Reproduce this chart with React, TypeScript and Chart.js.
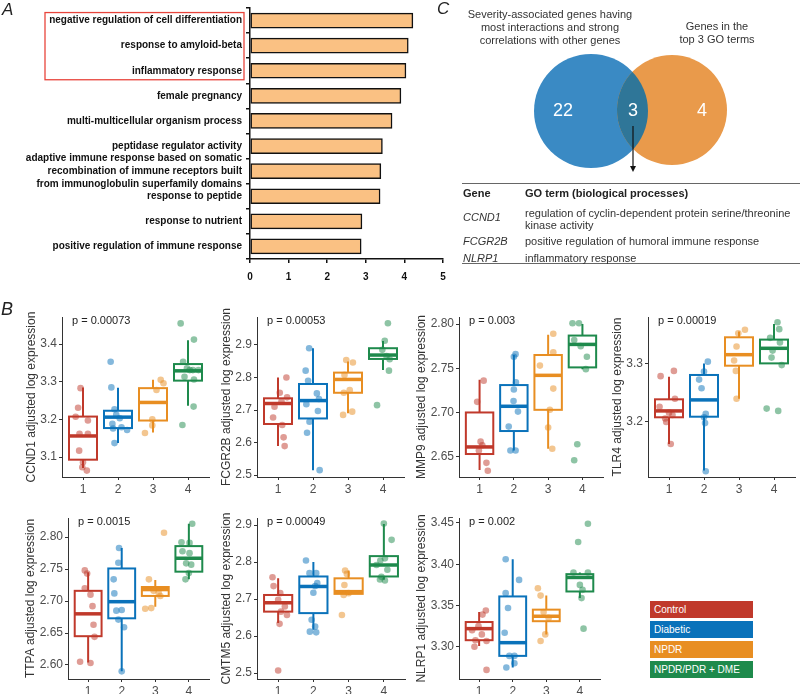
import React, { useEffect, useRef } from "react";
import { Chart, registerables } from "chart.js";
Chart.register(...registerables);

const FONT = '"Liberation Sans", Arial, Helvetica, sans-serif';

// ---------- Panel A data ----------
const goTerms: (string | string[])[] = [
  "negative regulation of cell differentiation",
  "response to amyloid-beta",
  "inflammatory response",
  "female pregnancy",
  "multi-multicellular organism process",
  "peptidase regulator activity",
  ["adaptive immune response based on somatic", "recombination of immune receptors built", "from immunoglobulin superfamily domains"],
  "response to peptide",
  "response to nutrient",
  "positive regulation of immune response",
];
const goScores = [4.22, 4.1, 4.04, 3.91, 3.68, 3.43, 3.39, 3.37, 2.9, 2.88];
const goAxisMax = 5;

// ---------- Panel C data ----------
const vennCounts = [22, 3, 4];
const vennLeftTitle = "Severity-associated genes having\nmost interactions and strong\ncorrelations with other genes";
const vennRightTitle = "Genes in the\ntop 3 GO terms";
const tableGenes = ["CCND1", "FCGR2B", "NLRP1"];
const tableTerms = [
  "regulation of cyclin-dependent protein serine/threonine\nkinase activity",
  "positive regulation of humoral immune response",
  "inflammatory response",
];

// ---------- Panel B data ----------
const groups = ["Control", "Diabetic", "NPDR", "NPDR/PDR + DME"];
const groupColors = ["#C0392B", "#0A72BA", "#E88E22", "#1E8A4C"];
const geneNames = ["CCND1", "FCGR2B", "MMP9", "TLR4", "TTPA", "CMTM5", "NLRP1"];
const pValues = ["0.00073", "0.00053", "0.003", "0.00019", "0.0015", "0.00049", "0.002"];

// box stats: [lower whisker, q1, median, q3, upper whisker]
const ccnd1Box = [[3.071, 3.093, 3.156, 3.2075, 3.285], [3.137, 3.177, 3.206, 3.223, 3.284], [3.165, 3.197, 3.245, 3.283, 3.305], [3.236, 3.303, 3.329, 3.347, 3.41]];
const ccnd1Values = [
  [3.283, 3.231, 3.207, 3.197, 3.162, 3.162, 3.117, 3.086, 3.073, 3.064],
  [3.353, 3.285, 3.227, 3.212, 3.203, 3.188, 3.176, 3.179, 3.172, 3.137],
  [3.305, 3.296, 3.278, 3.2, 3.184, 3.164],
  [3.455, 3.412, 3.353, 3.336, 3.331, 3.331, 3.331, 3.313, 3.306, 3.234, 3.185],
];
const ccnd1Jitter = [
  [-0.07, -0.14, -0.21, 0.14, -0.1, 0.14, -0.11, 0, -0.02, 0.11],
  [-0.21, -0.19, -0.1, -0.05, 0.05, -0.16, -0.14, 0.1, 0.26, -0.1],
  [0.22, 0.3, 0.1, -0.02, -0.02, -0.23],
  [-0.21, 0.17, -0.14, -0.03, 0.05, 0.14, 0.3, -0.1, 0.17, 0.16, -0.16],
];
const ccnd1Ticks = [3.1, 3.2, 3.3, 3.4];
const ccnd1Range = [3.047, 3.472];

const fcgr2bBox = [[2.589, 2.657, 2.72, 2.736, 2.8], [2.515, 2.674, 2.729, 2.78, 2.89], [2.69, 2.753, 2.794, 2.815, 2.849], [2.823, 2.857, 2.869, 2.89, 2.912]];
const fcgr2bValues = [
  [2.8, 2.753, 2.739, 2.727, 2.71, 2.677, 2.654, 2.616, 2.589],
  [2.89, 2.821, 2.79, 2.751, 2.718, 2.734, 2.697, 2.664, 2.63, 2.515],
  [2.854, 2.846, 2.808, 2.761, 2.753, 2.695, 2.685],
  [2.967, 2.913, 2.885, 2.866, 2.856, 2.821, 2.715],
];
const fcgr2bJitter = [
  [0.24, 0.05, 0.26, 0.1, -0.1, -0.14, 0.12, 0.16, 0.19],
  [-0.11, -0.21, -0.14, 0.11, -0.19, 0.17, 0.14, -0.1, -0.17, 0.19],
  [-0.05, 0.14, -0.1, 0.05, -0.12, 0.12, -0.14],
  [0.14, 0.05, -0.02, 0.1, 0.19, 0.17, -0.17],
];
const fcgr2bTicks = [2.5, 2.6, 2.7, 2.8, 2.9];
const fcgr2bRange = [2.494, 2.986];

const mmp9Box = [[2.635, 2.653, 2.661, 2.7, 2.737], [2.657, 2.679, 2.707, 2.731, 2.765], [2.659, 2.703, 2.742, 2.765, 2.788], [2.749, 2.751, 2.777, 2.787, 2.8]];
const mmp9Values = [
  [2.736, 2.712, 2.667, 2.663, 2.657, 2.643, 2.634],
  [2.766, 2.763, 2.734, 2.726, 2.713, 2.701, 2.684, 2.657, 2.657],
  [2.789, 2.768, 2.753, 2.727, 2.703, 2.683, 2.659],
  [2.801, 2.801, 2.782, 2.775, 2.763, 2.749, 2.664, 2.646],
];
const mmp9Jitter = [
  [0.12, -0.07, 0.03, 0.08, -0.02, 0.2, 0.24],
  [0.05, 0.0, 0.06, 0.0, -0.01, 0.12, -0.15, -0.1, 0.05],
  [0.15, 0.15, -0.24, 0.15, 0.05, 0.0, 0.12],
  [-0.29, -0.1, -0.24, -0.05, 0.13, 0.1, -0.15, -0.24],
];
const mmp9Ticks = [2.65, 2.7, 2.75, 2.8];
const mmp9Range = [2.627, 2.808];

const tlr4Box = [[3.162, 3.208, 3.219, 3.239, 3.278], [3.116, 3.209, 3.238, 3.281, 3.301], [3.24, 3.297, 3.316, 3.346, 3.356], [3.301, 3.301, 3.327, 3.342, 3.369]];
const tlr4Values = [
  [3.288, 3.279, 3.24, 3.226, 3.216, 3.212, 3.206, 3.2, 3.162],
  [3.304, 3.287, 3.273, 3.258, 3.214, 3.208, 3.198, 3.115],
  [3.359, 3.353, 3.33, 3.306, 3.288, 3.24],
  [3.372, 3.36, 3.345, 3.337, 3.323, 3.311, 3.298, 3.223, 3.219],
];
const tlr4Jitter = [
  [0.14, -0.24, 0.17, -0.27, 0, 0.1, -0.11, -0.08, 0.05],
  [0.11, 0, -0.14, -0.07, 0.05, 0, 0.03, 0.05],
  [0.17, -0.02, -0.07, -0.14, -0.09, -0.07],
  [0.1, 0.15, -0.11, 0.17, -0.04, -0.07, 0.22, -0.21, 0.12],
];
const tlr4Ticks = [3.2, 3.3];
const tlr4Range = [3.105, 3.381];

const ttpaBox = [[2.604, 2.645, 2.68, 2.716, 2.745], [2.59, 2.673, 2.699, 2.751, 2.783], [2.691, 2.708, 2.718, 2.722, 2.733], [2.734, 2.746, 2.767, 2.786, 2.821]];
const ttpaValues = [
  [2.748, 2.743, 2.72, 2.71, 2.692, 2.663, 2.644, 2.605, 2.603],
  [2.783, 2.76, 2.734, 2.712, 2.685, 2.686, 2.671, 2.659, 2.59],
  [2.807, 2.734, 2.716, 2.713, 2.708, 2.689, 2.688],
  [2.821, 2.792, 2.791, 2.778, 2.775, 2.759, 2.757, 2.744, 2.734],
];
const ttpaJitter = [
  [-0.1, -0.03, -0.1, 0.07, 0.13, 0.16, 0.19, -0.24, 0.07],
  [-0.08, -0.1, -0.24, -0.22, -0.16, 0, -0.1, 0.07, 0],
  [0.26, -0.19, -0.05, 0.1, 0.15, -0.12, -0.3],
  [0.1, -0.22, 0.02, -0.19, 0.02, -0.08, 0.07, 0, -0.1],
];
const ttpaTicks = [2.6, 2.65, 2.7, 2.75, 2.8];
const ttpaRange = [2.578, 2.83];

const cmtm5Box = [[2.635, 2.666, 2.69, 2.711, 2.756], [2.617, 2.662, 2.734, 2.761, 2.8], [2.711, 2.714, 2.72, 2.756, 2.777], [2.752, 2.761, 2.792, 2.816, 2.903]];
const cmtm5Values = [
  [2.759, 2.735, 2.716, 2.698, 2.68, 2.666, 2.657, 2.633, 2.507],
  [2.804, 2.77, 2.77, 2.743, 2.735, 2.717, 2.644, 2.626, 2.61, 2.612],
  [2.777, 2.768, 2.738, 2.716, 2.711, 2.657],
  [2.904, 2.86, 2.81, 2.804, 2.792, 2.779, 2.76, 2.753, 2.75],
];
const cmtm5Jitter = [
  [-0.16, -0.13, 0.06, 0, 0.19, 0.08, 0.25, 0.04, 0],
  [-0.21, 0.08, -0.11, 0.11, 0.05, 0, -0.05, 0.05, 0.08, -0.1],
  [-0.1, -0.05, -0.12, 0, -0.14, -0.19],
  [0, 0.22, 0.03, -0.1, -0.21, 0.1, -0.07, -0.11, 0.03],
];
const cmtm5Ticks = [2.5, 2.6, 2.7, 2.8, 2.9];
const cmtm5Range = [2.484, 2.919];

const nlrp1Box = [[3.301, 3.308, 3.322, 3.33, 3.342], [3.275, 3.289, 3.305, 3.361, 3.406], [3.315, 3.331, 3.337, 3.345, 3.362], [3.359, 3.367, 3.384, 3.388, 3.39]];
const nlrp1Values = [
  [3.344, 3.339, 3.325, 3.32, 3.315, 3.308, 3.307, 3.3, 3.272],
  [3.406, 3.381, 3.365, 3.347, 3.317, 3.289, 3.289, 3.275, 3.28],
  [3.371, 3.362, 3.342, 3.335, 3.315, 3.307],
  [3.449, 3.427, 3.39, 3.39, 3.375, 3.369, 3.359, 3.322],
];
const nlrp1Jitter = [
  [0.2, 0.1, -0.02, -0.21, 0.08, -0.11, 0.22, -0.14, 0.22],
  [-0.21, 0.19, -0.21, -0.14, -0.24, -0.1, 0.05, -0.19, 0.05],
  [-0.25, -0.17, -0.08, 0.07, -0.03, -0.17],
  [0.24, -0.05, -0.19, 0.24, 0, 0.08, 0.05, 0.11],
];
const nlrp1Ticks = [3.3, 3.35, 3.4, 3.45];
const nlrp1Range = [3.261, 3.456];

const boxData = [ccnd1Box, fcgr2bBox, mmp9Box, tlr4Box, ttpaBox, cmtm5Box, nlrp1Box];
const valueData = [ccnd1Values, fcgr2bValues, mmp9Values, tlr4Values, ttpaValues, cmtm5Values, nlrp1Values];
const jitterData = [ccnd1Jitter, fcgr2bJitter, mmp9Jitter, tlr4Jitter, ttpaJitter, cmtm5Jitter, nlrp1Jitter];
const tickData = [ccnd1Ticks, fcgr2bTicks, mmp9Ticks, tlr4Ticks, ttpaTicks, cmtm5Ticks, nlrp1Ticks];
const rangeData = [ccnd1Range, fcgr2bRange, mmp9Range, tlr4Range, ttpaRange, cmtm5Range, nlrp1Range];
const tickDecimals = [1, 1, 2, 1, 2, 1, 2];

// layout (page pixels) of each box-plot panel
const boxLayout = [
  { axisX: 62, right: 209, top: 317, bottom: 477 },
  { axisX: 257, right: 404, top: 317, bottom: 477 },
  { axisX: 459, right: 603, top: 317, bottom: 477 },
  { axisX: 648, right: 795, top: 317, bottom: 477 },
  { axisX: 68, right: 209, top: 518, bottom: 679 },
  { axisX: 257, right: 405, top: 518, bottom: 679 },
  { axisX: 459, right: 600, top: 518, bottom: 679 },
];

function rgba(hex: string, a: number) {
  const n = parseInt(hex.slice(1), 16);
  return `rgba(${(n >> 16) & 255},${(n >> 8) & 255},${n & 255},${a})`;
}

function ChartCanvas({ left, top, width, height, make }: any) {
  const ref = useRef<HTMLCanvasElement>(null);
  useEffect(() => {
    const chart = new Chart(ref.current as HTMLCanvasElement, make());
    return () => chart.destroy();
  }, []);
  return (
    <canvas ref={ref} width={width} height={height}
      style={{ position: "absolute", left, top, width, height }} />
  );
}

function T({ x, y, children, size = 11, bold = false, italic = false, color = "#333", align = "left", lh = 13 }: any) {
  const style: any = {
    position: "absolute", top: y - lh / 2, fontFamily: FONT, fontSize: size,
    fontWeight: bold ? "bold" : "normal", fontStyle: italic ? "italic" : "normal",
    color, lineHeight: lh + "px", whiteSpace: "pre",
  };
  if (align === "center") { style.left = x - 200; style.width = 400; style.textAlign = "center"; }
  else style.left = x;
  return <div style={style}>{children}</div>;
}

// ---------- Panel A chart ----------
function makeGoChart() {
  const redBox = {
    id: "redBox",
    afterDraw(chart: any) {
      const { ctx, chartArea, scales } = chart;
      const y = scales.y;
      const top = y.getPixelForValue(0) - 8;
      const bot = y.getPixelForValue(2) + 9;
      ctx.save();
      ctx.strokeStyle = "#E8453C";
      ctx.lineWidth = 1.3;
      ctx.strokeRect(45, top, chartArea.left - 6 - 45, bot - top);
      ctx.restore();
    },
  };
  const axisStyle = { color: "#111", width: 1.5 };
  return {
    type: "bar",
    data: {
      labels: goTerms,
      datasets: [{
        data: goScores, backgroundColor: "#FAC183", borderColor: "#111",
        borderWidth: 1.5, borderSkipped: false, barThickness: 15,
      }],
    },
    options: {
      indexAxis: "y", animation: false, responsive: false, events: [],
      layout: { padding: { top: 20, right: 27, left: 0, bottom: 0 } },
      plugins: { legend: { display: false }, tooltip: { enabled: false } },
      scales: {
        x: {
          min: 0, max: goAxisMax,
          ticks: { stepSize: 1, color: "#111", font: { family: FONT, size: 10, weight: "bold" }, padding: 8, maxRotation: 0 },
          grid: { drawOnChartArea: false, tickLength: 4, color: "#111", lineWidth: 1.5 },
          border: axisStyle,
          afterFit: (s: any) => { s.height = 30; },
        },
        y: {
          ticks: { color: "#111", font: { family: FONT, size: 10, weight: "bold", lineHeight: 1.3 }, padding: 4, autoSkip: false },
          grid: { drawOnChartArea: false, tickLength: 4, color: "#111", lineWidth: 1.5 },
          border: axisStyle,
          afterFit: (s: any) => { s.width = 250; },
        },
      },
    },
    plugins: [redBox],
  };
}

// ---------- Panel C Venn ----------
function makeVenn() {
  const venn = {
    id: "venn",
    afterDraw(chart: any) {
      const { ctx, scales } = chart;
      const px = (v: number) => scales.x.getPixelForValue(v);
      const py = (v: number) => scales.y.getPixelForValue(v);
      const A = { x: 591, y: 111, r: 57 };
      const B = { x: 672, y: 110, r: 55 };
      const circ = (c: any) => { ctx.beginPath(); ctx.arc(px(c.x), py(c.y), px(c.x + c.r) - px(c.x), 0, Math.PI * 2); };
      ctx.save();
      circ(A); ctx.fillStyle = "#3A8AC4"; ctx.fill();
      circ(B); ctx.fillStyle = "#E99A4B"; ctx.fill();
      ctx.save(); circ(A); ctx.clip(); circ(B); ctx.fillStyle = "#2F7698"; ctx.fill(); ctx.restore();
      ctx.fillStyle = "#fff";
      ctx.font = `18px ${FONT}`;
      ctx.textAlign = "center"; ctx.textBaseline = "middle";
      ctx.fillText(String(vennCounts[0]), px(563), py(111));
      ctx.fillText(String(vennCounts[1]), px(633), py(111));
      ctx.fillText(String(vennCounts[2]), px(702), py(111));
      // arrow
      ctx.strokeStyle = "#111"; ctx.lineWidth = 1.2;
      ctx.beginPath(); ctx.moveTo(px(633), py(126)); ctx.lineTo(px(633), py(168)); ctx.stroke();
      ctx.fillStyle = "#111";
      ctx.beginPath(); ctx.moveTo(px(630), py(166)); ctx.lineTo(px(636), py(166)); ctx.lineTo(px(633), py(172)); ctx.closePath(); ctx.fill();
      ctx.restore();
    },
  };
  return {
    type: "scatter",
    data: { datasets: [] },
    options: {
      animation: false, responsive: false, events: [],
      layout: { padding: 0 },
      plugins: { legend: { display: false }, tooltip: { enabled: false } },
      scales: {
        x: { type: "linear", display: false, min: 400, max: 800 },
        y: { type: "linear", display: false, min: 0, max: 180, reverse: true },
      },
    },
    plugins: [venn],
  };
}

// ---------- Panel B box plots ----------
const Y_AXIS_W = 62;
function makeBoxChart(i: number, padTop: number, xH: number) {
  const box = boxData[i];
  const dec = tickDecimals[i];
  // title centre: 30px left of axis for 1-decimal ticks, 37px for 2-decimal ticks
  const titleCentre = Y_AXIS_W - (dec === 2 ? 37 : 30);
  const boxes = {
    id: "boxes",
    beforeDatasetsDraw(chart: any) {
      const { ctx, scales } = chart;
      const x = scales.x, y = scales.y;
      ctx.save();
      box.forEach((b: number[], gi: number) => {
        const c = groupColors[gi];
        const cx = x.getPixelForValue(gi + 1);
        const l = x.getPixelForValue(gi + 1 - 0.4);
        const r = x.getPixelForValue(gi + 1 + 0.4);
        const [lo, q1, med, q3, hi] = b.map((v) => y.getPixelForValue(v));
        ctx.strokeStyle = c; ctx.lineWidth = 2;
        ctx.beginPath(); ctx.moveTo(cx, q3); ctx.lineTo(cx, hi); ctx.moveTo(cx, q1); ctx.lineTo(cx, lo); ctx.stroke();
        ctx.fillStyle = "#fff"; ctx.fillRect(l, q3, r - l, q1 - q3);
        ctx.strokeRect(l, q3, r - l, q1 - q3);
        ctx.lineWidth = 3.5;
        ctx.beginPath(); ctx.moveTo(l, med); ctx.lineTo(r, med); ctx.stroke();
      });
      ctx.restore();
    },
    afterDraw(chart: any) {
      const { ctx, chartArea } = chart;
      ctx.save();
      ctx.fillStyle = "#222"; ctx.font = `11px ${FONT}`;
      ctx.textAlign = "left"; ctx.textBaseline = "middle";
      ctx.fillText(`p = ${pValues[i]}`, chartArea.left + 10, chartArea.top + 4);
      ctx.restore();
    },
  };
  const grid = { drawOnChartArea: false, tickLength: 3, color: "#333", lineWidth: 1 };
  const border = { color: "#333", width: 1 };
  return {
    type: "scatter",
    data: {
      datasets: valueData[i].map((vals: number[], gi: number) => ({
        data: vals.map((v, k) => ({ x: gi + 1 + jitterData[i][gi][k], y: v })),
        backgroundColor: rgba(groupColors[gi], 0.5), borderWidth: 0, pointRadius: 3.3,
      })),
    },
    options: {
      animation: false, responsive: false, events: [],
      layout: { padding: { left: 0, top: padTop, right: 4, bottom: 0 } },
      plugins: { legend: { display: false }, tooltip: { enabled: false } },
      scales: {
        x: {
          type: "linear", min: 0.4, max: 4.6,
          afterBuildTicks: (s: any) => { s.ticks = [1, 2, 3, 4].map((v) => ({ value: v })); },
          ticks: { color: "#4d4d4d", font: { family: FONT, size: 12 }, padding: 2, maxRotation: 0, callback: (v: any) => String(v) },
          grid, border,
          afterFit: (s: any) => { s.height = xH; },
        },
        y: {
          type: "linear", min: rangeData[i][0], max: rangeData[i][1],
          afterBuildTicks: (s: any) => { s.ticks = tickData[i].map((v) => ({ value: v })); },
          ticks: { color: "#4d4d4d", font: { family: FONT, size: 12 }, padding: 2, callback: (v: any) => Number(v).toFixed(dec) },
          grid, border,
          title: { display: true, text: `${geneNames[i]} adjusted log expression`, color: "#333", font: { family: FONT, size: 12, lineHeight: 1.2 }, padding: { top: titleCentre - 7.2, bottom: 0 } },
          afterFit: (s: any) => { s.width = Y_AXIS_W; },
        },
      },
    },
    plugins: [boxes],
  };
}

function BoxPanel({ i }: { i: number }) {
  const L = boxLayout[i];
  const left = L.axisX - Y_AXIS_W;
  const padTop = 18;
  const xH = 22;
  const top = L.top - padTop;
  const width = L.right - left + 4;
  const height = L.bottom + xH - top;
  return <ChartCanvas left={left} top={top} width={width} height={height} make={() => makeBoxChart(i, padTop, xH)} />;
}

export default function App() {
  return (
    <div style={{ position: "absolute", left: 0, top: 0, width: 800, height: 694, background: "#fff", overflow: "hidden" }}>
      {/* Panel A */}
      <ChartCanvas left={0} top={-12} width={470} height={301} make={makeGoChart} />
      <T x={2} y={10} size={17} italic color="#222" lh={18}>A</T>

      {/* Panel C */}
      <ChartCanvas left={400} top={0} width={400} height={180} make={makeVenn} />
      <T x={437} y={9} size={17} italic color="#222" lh={18}>C</T>
      <T x={550} y={14} align="center">{vennLeftTitle}</T>
      <T x={717} y={26} align="center">{vennRightTitle}</T>
      <div style={{ position: "absolute", left: 462, top: 182.5, width: 338, height: 1.5, background: "#666" }} />
      <div style={{ position: "absolute", left: 462, top: 262.5, width: 338, height: 1.5, background: "#666" }} />
      <T x={463} y={193} bold color="#222">Gene</T>
      <T x={525} y={193} bold color="#222">GO term (biological processes)</T>
      <T x={463} y={217} italic>{tableGenes[0]}</T>
      <T x={525} y={213} lh={12.5}>{tableTerms[0]}</T>
      <T x={463} y={241} italic>{tableGenes[1]}</T>
      <T x={525} y={241}>{tableTerms[1]}</T>
      <T x={463} y={258} italic>{tableGenes[2]}</T>
      <T x={525} y={258}>{tableTerms[2]}</T>

      {/* Panel B */}
      <T x={1} y={309} size={18} italic color="#222" lh={20}>B</T>
      {boxLayout.map((_, i) => <BoxPanel key={i} i={i} />)}

      {/* Legend */}
      {groups.map((g, gi) => (
        <div key={g} style={{
          position: "absolute", left: 650, top: 601 + gi * 20, width: 103, height: 17,
          background: groupColors[gi], color: "#fff", fontFamily: FONT, fontSize: 10,
          lineHeight: "17px", paddingLeft: 4, boxSizing: "border-box", whiteSpace: "nowrap",
        }}>{g}</div>
      ))}
    </div>
  );
}
